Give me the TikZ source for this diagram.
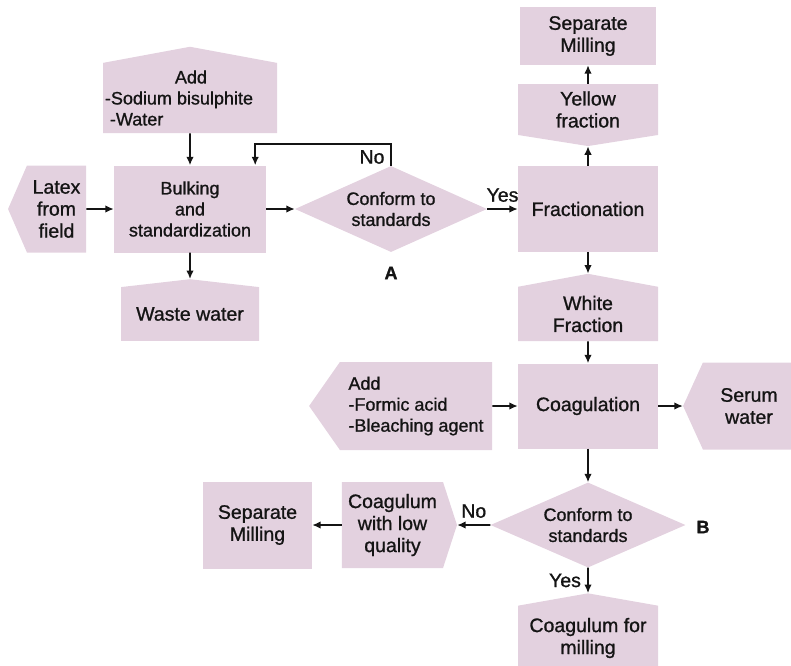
\documentclass[tikz,border=0pt]{standalone}
\usepackage{fontspec}
\setmainfont{Liberation Sans}[FakeBold=1.0]
\usetikzlibrary{shapes.geometric, shapes.symbols, arrows.meta, positioning}
\definecolor{boxfill}{RGB}{227, 209, 223}
\definecolor{inkgray}{RGB}{20, 20, 20}

\begin{document}
\begin{tikzpicture}[
    x=1pt, y=-1pt,
    every node/.style={font=\fontsize{19.5}{22}\selectfont, text=inkgray},
    smalltext/.style={font=\fontsize{18}{21}\selectfont},
    proc/.style={rectangle, fill=boxfill, align=center, inner sep=0pt},
    tag/.style={signal, fill=boxfill, align=center, inner sep=0pt},
    dec/.style={diamond, fill=boxfill, align=center, inner sep=0pt,
                shape aspect=2.2, smalltext},
    flow/.style={-{Latex[length=8.5pt, width=7.5pt]}, line width=1.6pt, inkgray},
    letter/.style={font=\fontsize{18}{21}\selectfont\bfseries}
]
\useasboundingbox (0,0) rectangle (791,665);

%% Intake and bulking
\node[tag, smalltext, align=left, signal to=north, signal pointer angle=159,
      minimum width=174pt, minimum height=86pt]
      (add1) at (190, 98)
      {\hspace*{70pt}Add\\
       -Sodium bisulphite\rule{22pt}{0pt}\\
       \hspace*{5pt}-Water};
\node[tag, signal to=west, signal pointer angle=133,
      minimum width=78pt, minimum height=87pt]
      (latex) at (56.5, 209) {Latex\\from\\field};
\node[proc, smalltext, minimum width=152pt, minimum height=87pt]
      (bulk) at (190, 209) {Bulking\\and\\standardization};
\node[tag, signal to=north, signal pointer angle=167,
      minimum width=138pt, minimum height=60pt]
      (waste) at (190, 314) {Waste water};

%% Check A
\node[dec, minimum width=192pt, minimum height=86pt]
      (diaA) at (391, 209) {Conform to\\standards};
\node[letter] (labA) at (391, 273) {A};

%% Fractionation column
\node[proc, minimum width=140pt, minimum height=86pt]
      (frac) at (588, 209) {Fractionation};
\node[tag, signal to=south, signal pointer angle=162,
      minimum width=140pt, minimum height=56pt]
      (yellow) at (588, 109.5) {Yellow\\fraction};
\node[proc, minimum width=136pt, minimum height=58pt]
      (sep1) at (588, 36) {Separate\\Milling};
\node[tag, signal to=north, signal pointer angle=159,
      minimum width=140pt, minimum height=61pt]
      (white) at (588, 314) {White\\Fraction};

%% Coagulation row
\node[proc, minimum width=140pt, minimum height=85pt]
      (coag) at (588, 406) {Coagulation};
\node[tag, smalltext, signal to=west, signal pointer angle=110,
      minimum width=183pt, minimum height=88pt, align=left]
      (formic) at (416, 406) {Add\\-Formic acid\\-Bleaching agent};
\node[tag, signal to=west, signal pointer angle=131,
      minimum width=112pt, minimum height=87pt]
      (serum) at (749, 406) {Serum\\water};

%% Check B
\node[dec, minimum width=195pt, minimum height=85pt]
      (diaB) at (588, 525) {Conform to\\standards};
\node[letter] (labB) at (703, 527) {B};
\node[tag, signal to=north, signal pointer angle=160,
      minimum width=140pt, minimum height=75pt]
      (milling) at (588, 638) {Coagulum for\\milling};
\node[tag, signal to=east, signal pointer angle=144,
      minimum width=115pt, minimum height=86pt]
      (lowq) at (392.5, 525) {Coagulum\\with low\\quality};
\node[proc, minimum width=109pt, minimum height=87pt]
      (sep2) at (257.5, 525) {Separate\\Milling};

%% Connectors
\draw[flow] (latex) -- (bulk);
\draw[flow] (add1) -- (bulk);
\draw[flow] (bulk) -- (waste);
\draw[flow] (bulk) -- (diaA);
\draw[flow] (diaA.north) -- ++(0,-22) -| ([xshift=-11pt]bulk.north east);
\node (noA) at (372, 157) {No};
\draw[flow] (diaA) -- node[above=3pt] {Yes} (frac);
\draw[flow] (frac) -- (yellow);
\draw[flow] (yellow) -- (sep1);
\draw[flow] (frac) -- (white);
\draw[flow] (white) -- (coag);
\draw[flow] (formic) -- (coag);
\draw[flow] (coag) -- (serum);
\draw[flow] (coag) -- (diaB);
\draw[flow] (diaB) -- node[left=3pt] {Yes} (milling);
\draw[flow] (diaB) -- node[above=3pt] {No} (lowq);
\draw[flow] (lowq) -- (sep2);

\end{tikzpicture}
\end{document}
